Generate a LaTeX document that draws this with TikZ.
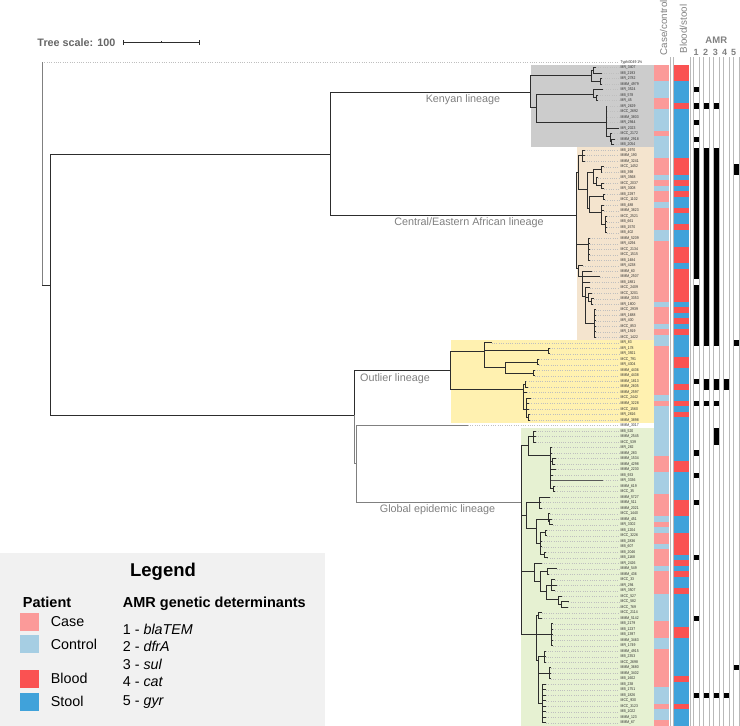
\documentclass[tikz,border=0pt]{standalone}
\usepackage{fontspec}
\setmainfont{Liberation Sans}
\newfontfamily\lblfont[FakeStretch=0.85]{Liberation Sans}
\definecolor{casec}{RGB}{251,154,153}
\definecolor{ctrlc}{RGB}{166,206,227}
\definecolor{bloodc}{RGB}{250,82,82}
\definecolor{stoolc}{RGB}{64,162,218}
\definecolor{kenbg}{RGB}{204,204,204}
\definecolor{cenbg}{RGB}{244,228,206}
\definecolor{outbg}{RGB}{255,241,176}
\definecolor{globg}{RGB}{230,241,210}
\definecolor{treec}{RGB}{45,45,45}
\definecolor{labc}{RGB}{45,45,45}
\definecolor{hdrc}{RGB}{128,128,128}
\definecolor{lgbg}{RGB}{241,241,241}
\newcommand\ry[1]{(62+(#1-1)*5.508)}
\newcommand\tbr[4]{\draw[br] (#1,{#2}) |- (#3,{#4});}
\newcommand\tlf[4]{\draw[br] (#1,{#2}) |- (#3,{\ry{#4}}); \draw[lead] (#3,{\ry{#4}}) -- (619,{\ry{#4}});}
\tikzset{
  br/.style={draw=treec, line width=0.95pt, line cap=rect},
  lead/.style={draw=gray!50, dotted, line width=0.3pt},
  lbl/.style={font=\lblfont\fontsize{4}{4.5}\selectfont, text=labc, anchor=west, inner sep=0pt},
  amrl/.style={draw=gray!55, line width=0.5pt},
  lin/.style={font=\fontsize{10.8}{12}\selectfont, text=hdrc, anchor=base, inner sep=0pt},
  hdr/.style={font=\fontsize{9.8}{11}\selectfont, text=hdrc, inner sep=0pt},
  lgt/.style={font=\fontsize{14.3}{16}\selectfont, anchor=base west, inner sep=0pt},
}
\begin{document}
\begin{tikzpicture}[x=1pt,y=-1pt]
\useasboundingbox (0,0) rectangle (740,726);
% clade backgrounds
\fill[kenbg] (530.7,{\ry{2}-2.754}) rectangle (654,{\ry{16}+2.754});
\fill[cenbg] (576.7,{\ry{17}-2.754}) rectangle (654,{\ry{51}+2.754});
\fill[outbg] (450.7,{\ry{52}-2.754}) rectangle (654,{\ry{66}+2.754});
\fill[globg] (521,{\ry{68}-2.754}) rectangle (654,726);
% lineage labels
\node[lin] (lken) at (463,102.3) {Kenyan lineage};
\node[lin] (lcen) at (469,225.7) {Central/Eastern African lineage};
\node[lin] (lout) at (395,381.7) {Outlier lineage};
\node[lin] (lglo) at (437.5,512) {Global epidemic lineage};
% tree scale
\node[font=\bfseries\fontsize{10.8}{12}\selectfont, text=gray!80!black, anchor=base west, inner sep=0pt] (tsc) at (37.3,46) {Tree scale: 100};
\draw[treec, line width=0.7pt] (123.3,42.3) -- (199.3,42.3);
\draw[treec, line width=0.7pt] (123.3,40) -- (123.3,44.6) (199.3,40) -- (199.3,44.6) (161.3,41) -- (161.3,42.3);
% root
\draw[lead] (42,62) -- (619,62);
\draw[br, draw=gray] (42,62) -- (42,285);
\draw[br] (42,285) -- (50,285);
\tbr{50}{285}{330.7}{154}
\tbr{50}{285}{354.3}{415.7}
\tbr{330.7}{154}{530.7}{92.3}
\tbr{330.7}{154}{576.7}{215}
% Kenyan
\tbr{530.7}{92.3}{591.7}{75.7}
\tbr{591.7}{75.7}{593.3}{\ry{2.5}}
\tlf{593.3}{\ry{2.5}}{595.7}{2}
\tlf{593.3}{\ry{2.5}}{601.7}{3}
\tbr{591.7}{75.7}{600.7}{\ry{4.5}}
\tlf{600.7}{\ry{4.5}}{602.3}{4}
\tlf{600.7}{\ry{4.5}}{602.3}{5}
\tbr{530.7}{92.3}{536}{107.7}
\tbr{536}{107.7}{593.3}{94.3}
\tlf{593.3}{94.3}{603.3}{6}
\tbr{593.3}{94.3}{596.7}{\ry{7.5}}
\tlf{596.7}{\ry{7.5}}{597.8}{7}
\tlf{596.7}{\ry{7.5}}{597.8}{8}
\tbr{536}{107.7}{606}{122.7}
\foreach \r in {9,...,12} {\tlf{606}{122.7}{607.3}{\r}}
\tlf{606}{122.7}{619}{13}
\tbr{606}{122.7}{610}{\ry{14.6}}
\tlf{610}{\ry{14.6}}{612}{14}
\tbr{610}{\ry{14.6}}{611.7}{\ry{15.5}}
\tlf{611.7}{\ry{15.5}}{615}{15}
\tlf{611.7}{\ry{15.5}}{613.5}{16}
% Central/Eastern
\tbr{576.7}{215}{578.3}{172}
\tbr{578.3}{172}{582.7}{\ry{18}}
\foreach \r in {17,18,19} {\tlf{582.7}{\ry{18}}{584.5}{\r}}
\tbr{578.3}{172}{587.3}{189.3}
\tbr{587.3}{189.3}{593.3}{\ry{21}}
\tbr{593.3}{\ry{21}}{601}{\ry{20.5}}
\tlf{601}{\ry{20.5}}{603.5}{20}
\tlf{601}{\ry{20.5}}{602.2}{21}
\tbr{593.3}{\ry{21}}{596.7}{\ry{23}}
\tlf{596.7}{\ry{23}}{598}{22}
\tbr{596.7}{\ry{23}}{601.7}{\ry{23.5}}
\tlf{601.7}{\ry{23.5}}{603.5}{23}
\tlf{601.7}{\ry{23.5}}{604}{24}
\tbr{587.3}{189.3}{589.3}{208}
\tbr{589.3}{208}{603.3}{\ry{25.5}}
\tlf{603.3}{\ry{25.5}}{605}{25}
\tlf{603.3}{\ry{25.5}}{605}{26}
\tbr{589.3}{208}{601.7}{\ry{28.3}}
\tlf{601.7}{\ry{28.3}}{603.5}{27}
\tlf{601.7}{\ry{28.3}}{604}{28}
\tbr{601.7}{\ry{28.3}}{605}{\ry{30.5}}
\foreach \r in {29,...,32} {\tlf{605}{\ry{30.5}}{606.5}{\r}}
\tbr{576.7}{215}{588.3}{244.3}
\foreach \r in {33,...,37} {\tlf{588.3}{244.3}{589.7}{\r}}
\tbr{576.7}{215}{578.5}{268}
\tlf{578.5}{268}{583}{38}
\tbr{578.5}{268}{582.7}{\ry{40}}
\tlf{582.7}{\ry{40}}{591.7}{39}
\tlf{582.7}{\ry{40}}{600}{40}
\tlf{582.7}{\ry{40}}{590}{41}
\tbr{582.7}{\ry{40}}{585}{\ry{43.5}}
\tlf{585}{\ry{43.5}}{590}{42}
\tbr{585}{\ry{43.5}}{588.3}{\ry{43.7}}
\tlf{588.3}{\ry{43.7}}{592}{43}
\tbr{588.3}{\ry{43.7}}{591.7}{\ry{44.5}}
\tlf{591.7}{\ry{44.5}}{593.5}{44}
\tlf{591.7}{\ry{44.5}}{593}{45}
\tbr{585}{\ry{43.5}}{594.3}{\ry{48.5}}
\foreach \r in {46,...,51} {\tlf{594.3}{\ry{48.5}}{595.6}{\r}}
% Outlier + global stem
\tbr{354.3}{415.7}{450.7}{370}
\draw[br, draw=gray] (354.3,415.7) |- (356.7,463.3);
\draw[br, draw=gray] (356.7,463.3) |- (467.7,{\ry{67}});
\draw[lead] (467.7,{\ry{67}}) -- (619,{\ry{67}});
\draw[br, draw=gray] (356.7,463.3) |- (521,502.3);
\tbr{450.7}{370}{484}{351.7}
\tlf{484}{351.7}{491.7}{52}
\tbr{484}{351.7}{548.3}{350}
\tlf{548.3}{350}{549.6}{53}
\tlf{548.3}{350}{549.6}{54}
\tbr{484}{351.7}{505.7}{367.3}
\tbr{505.7}{367.3}{537.7}{\ry{55.5}}
\tlf{537.7}{\ry{55.5}}{539}{55}
\tlf{537.7}{\ry{55.5}}{539}{56}
\tbr{505.7}{367.3}{533.3}{\ry{57.5}}
\tlf{533.3}{\ry{57.5}}{534.6}{57}
\tlf{533.3}{\ry{57.5}}{534.6}{58}
\tbr{450.7}{370}{523.3}{389}
\tbr{523.3}{389}{525}{\ry{59.5}}
\tlf{525}{\ry{59.5}}{526.3}{59}
\tlf{525}{\ry{59.5}}{528.3}{60}
\tlf{523.3}{389}{527}{61}
\tbr{523.3}{389}{526.7}{\ry{64}}
\tlf{526.7}{\ry{64}}{530.7}{62}
\tlf{526.7}{\ry{64}}{529}{63}
\tlf{526.7}{\ry{64}}{528.5}{64}
\tbr{526.7}{\ry{64}}{528}{\ry{65.5}}
\tlf{528}{\ry{65.5}}{529.5}{65}
\tlf{528}{\ry{65.5}}{529.5}{66}
% Global epidemic
\tbr{521}{502.3}{528.3}{445}
\tbr{528.3}{445}{533.3}{\ry{69}}
\foreach \r in {68,69,70} {\tlf{533.3}{\ry{69}}{535.5}{\r}}
\tbr{528.3}{445}{550}{455}
\tlf{550}{455}{552}{71}
\tlf{550}{455}{552}{72}
\tbr{550}{455}{552.7}{\ry{73.5}}
\tlf{552.7}{\ry{73.5}}{556}{73}
\tlf{552.7}{\ry{73.5}}{555}{74}
\tlf{550}{455}{556}{75}
\tlf{550}{455}{553}{76}
\draw[br, draw=gray!70!black] (550,455) |- (603.3,{\ry{77}});
\draw[lead] (603.3,{\ry{77}}) -- (619,{\ry{77}});
\tbr{550}{455}{553.3}{\ry{78.5}}
\tlf{553.3}{\ry{78.5}}{555}{78}
\tlf{553.3}{\ry{78.5}}{555}{79}
\tbr{521}{502.3}{526.7}{515}
\tbr{526.7}{515}{539.3}{502.3}
\tlf{539.3}{502.3}{550}{80}
\tlf{539.3}{502.3}{541}{81}
\tlf{539.3}{502.3}{542}{82}
\tbr{526.7}{515}{536.7}{528.3}
\tbr{536.7}{528.3}{548.3}{\ry{84}}
\tlf{548.3}{\ry{84}}{550}{83}
\tbr{548.3}{\ry{84}}{549.3}{\ry{84.5}}
\tlf{549.3}{\ry{84.5}}{551.7}{84}
\tlf{549.3}{\ry{84.5}}{552.7}{85}
\tbr{536.7}{528.3}{540}{\ry{88.5}}
\tbr{540}{\ry{88.5}}{545}{\ry{86.5}}
\tlf{545}{\ry{86.5}}{546.5}{86}
\tlf{545}{\ry{86.5}}{546.5}{87}
\tlf{540}{\ry{88.5}}{542}{88}
\tlf{540}{\ry{88.5}}{541.5}{89}
\tbr{540}{\ry{88.5}}{544}{\ry{90.5}}
\tlf{544}{\ry{90.5}}{546}{90}
\tlf{544}{\ry{90.5}}{547.3}{91}
\tbr{521}{502.3}{534.3}{571.7}
\tlf{534.3}{571.7}{541.7}{92}
\tbr{534.3}{571.7}{540}{581.7}
\tbr{540}{581.7}{547.7}{\ry{93.5}}
\tlf{547.7}{\ry{93.5}}{556.7}{93}
\tlf{547.7}{\ry{93.5}}{549}{94}
\tbr{540}{581.7}{546.7}{591.7}
\tbr{546.7}{591.7}{551.7}{\ry{96}}
\tlf{551.7}{\ry{96}}{555}{95}
\tlf{551.7}{\ry{96}}{556.7}{96}
\tlf{551.7}{\ry{96}}{555}{97}
\tbr{546.7}{591.7}{558.3}{\ry{98.5}}
\tlf{558.3}{\ry{98.5}}{561.7}{98}
\tbr{558.3}{\ry{98.5}}{561.7}{\ry{99.5}}
\tlf{561.7}{\ry{99.5}}{568.3}{99}
\tlf{561.7}{\ry{99.5}}{568.3}{100}
\tbr{521}{502.3}{536}{634}
\tbr{536}{634}{538.3}{\ry{101.5}}
\tlf{538.3}{\ry{101.5}}{541.7}{101}
\tlf{538.3}{\ry{101.5}}{541.7}{102}
\tbr{536}{634}{551.7}{\ry{105}}
\foreach \r in {103,...,107} {\tlf{551.7}{\ry{105}}{552.9}{\r}}
\tbr{536}{634}{538.3}{660}
\tbr{538.3}{660}{544}{\ry{109}}
\foreach \r in {108,109,110} {\tlf{544}{\ry{109}}{545.5}{\r}}
\tbr{538.3}{660}{549.3}{\ry{112}}
\foreach \r in {111,112,113} {\tlf{549.3}{\ry{112}}{550.6}{\r}}
\tbr{538.3}{660}{542.7}{\ry{117.5}}
\foreach \r in {114,...,121} {\tlf{542.7}{\ry{117.5}}{546}{\r}}
% leaf labels
\foreach \n [count=\i] in {Typhi3049 1\%, MR\_3407, MB\_2193, MR\_2782, MMM\_4979, MR\_3524, MB\_578, MR\_45, MR\_2629, MCC\_2692, MMM\_3803, MR\_2944, MR\_2023, MCC\_2172, MMM\_2918, MB\_2054, MB\_1970, MMM\_190, MMM\_3241, MCC\_1452, MB\_398, MR\_3568, MCC\_2037, MR\_3008, MB\_2297, MCC\_1102, MB\_488, MMM\_3823, MCC\_2521, MB\_661, MB\_1570, MB\_402, MMM\_5209, MR\_4294, MCC\_2134, MCC\_1515, MB\_1484, MR\_4238, MMM\_60, MMM\_2507, MB\_1881, MCC\_2409, MCC\_3201, MMM\_3353, MR\_1800, MCC\_2939, MR\_1688, MR\_400, MCC\_853, MR\_1919, MCC\_1422, MR\_83, MR\_178, MR\_3921, MCC\_791, MR\_4304, MMM\_4436, MMM\_4438, MMM\_1813, MMM\_2605, MMM\_2597, MCC\_2442, MMM\_3228, MCC\_1560, MR\_2816, MMM\_3898, MMM\_3017, MB\_520, MMM\_2545, MCC\_539, MR\_282, MMM\_283, MMM\_1534, MMM\_4298, MMM\_2230, MB\_933, MR\_3336, MMM\_619, MCC\_35, MMM\_5727, MMM\_511, MMM\_2021, MCC\_1440, MMM\_451, MR\_3302, MB\_1204, MCC\_3226, MB\_2836, MB\_607, MB\_2046, MB\_1168, MR\_2426, MMM\_549, MMM\_436, MCC\_33, MR\_294, MR\_3507, MCC\_527, MCC\_582, MCC\_769, MCC\_2114, MMM\_5142, MB\_2179, MB\_1237, MB\_1397, MMM\_3463, MR\_1749, MMM\_4915, MB\_2353, MCC\_2698, MMM\_3680, MMM\_3402, MB\_1602, MB\_238, MB\_1751, MB\_1826, MCC\_930, MCC\_3123, MB\_1022, MMM\_123, MMM\_67}
  \node[lbl] (lf\i) at (620.5,{\ry{\i}}) {\n};
% case/control column
\fill[ctrlc] (654,{\ry{2}-2.754}) rectangle (669,726);
\foreach \a/\b in {2/4,8/9,14/14,19/21,23/23,25/26,28/31,34/44,46/48,50/50,53/61,63/63,73/75,80/83,85/85,87/88,90/92,94/97,103/105,108/114,118/118,121/121}
  \fill[casec] (654,{\ry{\a}-2.754}) rectangle (669,{\ry{\b}+2.754});
% blood/stool column
\fill[stoolc] (674,{\ry{2}-2.754}) rectangle (689.3,726);
\foreach \a/\b in {2/4,9/9,19/21,23/23,25/25,28/28,31/31,35/37,39/44,46/46,48/48,50/50,55/56,60/60,63/63,65/65,74/75,81/83,87/90,92/92,94/94,97/97,104/105,113/113,118/118}
  \fill[bloodc] (674,{\ry{\a}-2.754}) rectangle (689.3,{\ry{\b}+2.754});
% grid lines
\foreach \xx in {670.3,673.2,690.3} \draw[amrl] (\xx,57) -- (\xx,726);
\foreach \k in {0,...,4} {
  \draw[amrl] ({693+10*\k},57) -- ({693+10*\k},726);
  \draw[amrl] ({699.6+10*\k},57) -- ({699.6+10*\k},726);
}
% AMR boxes
\foreach \k/\a/\b in {1/6/6,1/9/9,1/12/12,1/15/15,1/17/40,1/42/52,1/59/59,1/63/63,1/72/72,1/76/76,1/81/81,1/91/91,1/102/102,1/116/116,
  2/9/9,2/17/52,2/59/60,2/63/63,2/116/116,
  3/9/9,3/17/52,3/59/60,3/63/63,3/68/70,3/116/116,
  4/59/60,4/116/116,
  5/20/21,5/52/52,5/111/111}
  \fill[black] ({696.3+10*(\k-1)-2.6},{\ry{\a}-2.6}) rectangle ({696.3+10*(\k-1)+2.6},{\ry{\b}+2.6});
% headers
\node[hdr, rotate=90, anchor=base west] (hcc) at (667,55.5) {Case/control};
\node[hdr, rotate=90, anchor=base west] (hbs) at (686.8,53.5) {Blood/stool};
\node[font=\bfseries\fontsize{9.5}{11}\selectfont, text=hdrc, anchor=base, inner sep=0pt] (hamr) at (716.3,43.3) {AMR};
\foreach \n/\xx in {1/696,2/705.7,3/715.3,4/724.7,5/733.7}
  \node[font=\bfseries\fontsize{9}{10}\selectfont, text=hdrc, anchor=base, inner sep=0pt] (hn\n) at (\xx,55) {\n};
% legend
\fill[lgbg] (0,552.7) rectangle (325,726);
\node[font=\bfseries\fontsize{18.5}{20}\selectfont, anchor=base, inner sep=0pt] (lgt) at (163,576.7) {Legend};
\node[lgt, font=\bfseries\fontsize{14.5}{16}\selectfont] (lpat) at (22.7,607.3) {Patient};
\node[lgt, font=\bfseries\fontsize{14.5}{16}\selectfont] (lamr) at (122.7,607.3) {AMR genetic determinants};
\fill[casec] (20,612.7) rectangle (39,631);
\fill[ctrlc] (20,635) rectangle (39,653.3);
\fill[bloodc] (20,670) rectangle (39,688.3);
\fill[stoolc] (20,692.7) rectangle (39,711);
\node[lgt] (lcase) at (50.7,626) {Case};
\node[lgt] (lctrl) at (50.7,649) {Control};
\node[lgt] (lblood) at (50.7,683.3) {Blood};
\node[lgt] (lstool) at (50.7,706) {Stool};
\node[lgt] (g1) at (122.7,634) {1 - \textit{blaTEM}};
\node[lgt] (g2) at (122.7,651.7) {2 - \textit{dfrA}};
\node[lgt] (g3) at (122.7,669) {3 - \textit{sul}};
\node[lgt] (g4) at (122.7,686.7) {4 - \textit{cat}};
\node[lgt] (g5) at (122.7,705) {5 - \textit{gyr}};
\end{tikzpicture}
\end{document}
